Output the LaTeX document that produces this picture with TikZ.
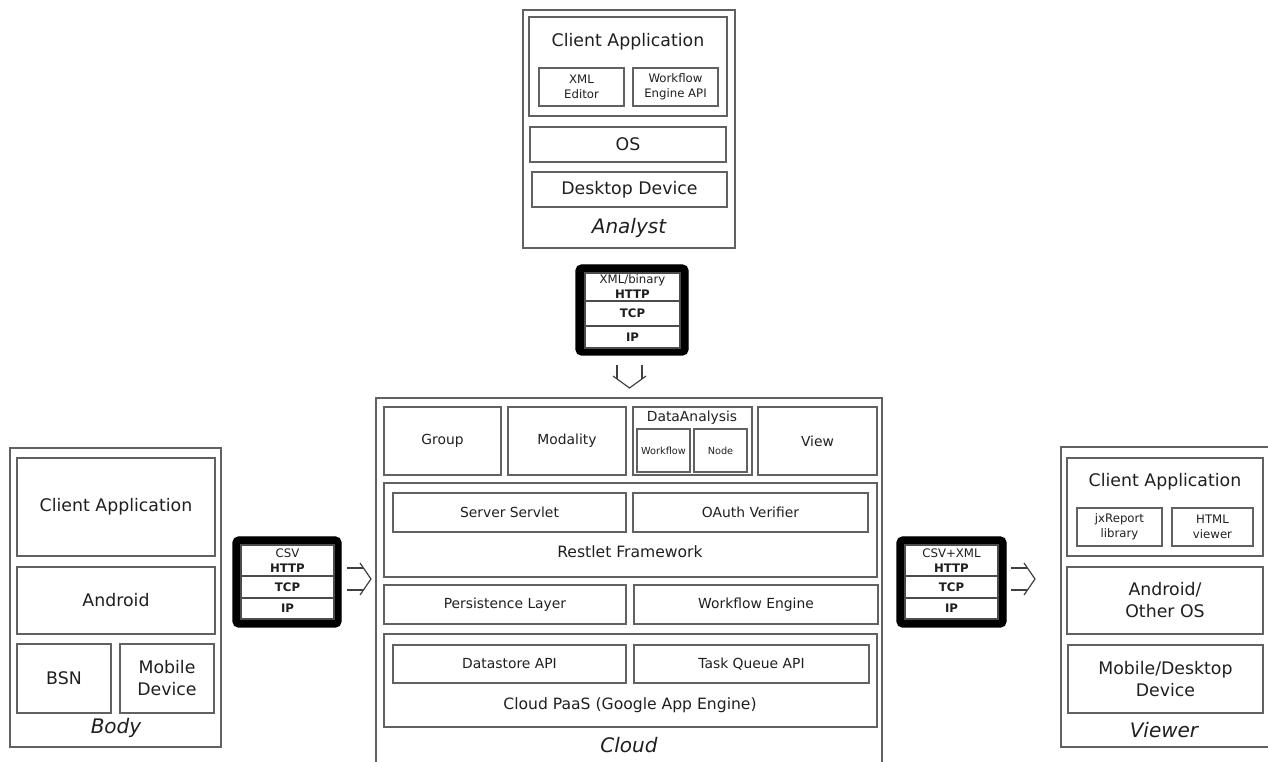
\documentclass[tikz,border=0pt]{standalone}
\usepackage{fontspec}
\setmainfont{DejaVu Sans}
\usetikzlibrary{calc}
\newcommand{\bx}[7][]{\node[box,#1,minimum width={(#5-#3)*0.75pt},minimum height={(#6-#4)*0.75pt}] (#2) at ({(#3+#5)/2},{(#4+#6)/2}) {#7};}
\tikzset{
  box/.style={draw=black!62, line width=0.9pt, inner sep=1pt, align=center, text=black!88},
  lbl/.style={inner sep=0pt, align=center, text=black!88},
  fbig/.style={font=\fontsize{13}{16.5}\selectfont},
  fmid/.style={font=\fontsize{10.4}{12.5}\selectfont},
  fmidl/.style={font=\fontsize{11.7}{14}\selectfont},
  fsmall/.style={font=\fontsize{8.8}{11.25}\selectfont},
  ftiny/.style={font=\fontsize{7.3}{9}\selectfont},
  flab/.style={font=\fontsize{15}{18}\selectfont\itshape},
  frame/.style={fill=black, draw=black, rounded corners=4pt},
  sect/.style={box, fill=white, draw=black!70, line width=0.8pt, font=\fontsize{8.8}{11.25}\selectfont},
  arrowline/.style={draw=black!75, line width=0.9pt},
}
\begin{document}
\begin{tikzpicture}[x=0.75pt,y=-0.75pt]
\useasboundingbox (0,0) rectangle (1268,762);

% ---------------- Analyst ----------------
\bx{analyst}{523}{10}{735}{248}{}
\node[lbl,flab] (analystlbl) at (629,228) {Analyst};
\bx{aclient}{529}{17}{727}{116}{}
\node[lbl,fbig] (aclientlbl) at (628,42) {Client Application};
\bx[fsmall]{xmled}{539}{68}{624}{106}{XML\\Editor}
\bx[fsmall]{wfapi}{633}{68}{718}{106}{Workflow\\Engine API}
\bx[fbig]{aos}{530}{127}{726}{162}{OS}
\bx[fbig]{adev}{532}{172}{727}{207}{Desktop Device}

% ---------------- top protocol box ----------------
\bx[frame]{ptop}{576}{265}{688}{355}{}
\bx[sect]{ptopa}{585}{273}{680}{301}{XML/binary\\\textbf{HTTP}}
\bx[sect]{ptopb}{585}{301}{680}{326}{\textbf{TCP}}
\bx[sect]{ptopc}{585}{326}{680}{348}{\textbf{IP}}

% ---------------- Cloud ----------------
\bx{cloud}{376}{398}{882}{800}{}
\node[lbl,flab] (cloudlbl) at (629,745) {Cloud};
\bx[fmid]{group}{384}{407}{501}{475}{Group}
\bx[fmid]{modality}{508}{407}{626}{475}{Modality}
\bx{da}{633}{407}{752}{475}{}
\node[lbl,fmid] (dalbl) at (692,418) {DataAnalysis};
\bx[ftiny]{wf}{637}{429}{690}{472}{Workflow}
\bx[ftiny]{nd}{694}{429}{747}{472}{Node}
\bx[fmid]{view}{758}{407}{877}{475}{View}
\bx{restlet}{384}{483}{877}{577}{}
\node[lbl,fmidl] (restletlbl) at (630,552) {Restlet Framework};
\bx[fmid]{servlet}{393}{493}{626}{532}{Server Servlet}
\bx[fmid]{oauth}{633}{493}{868}{532}{OAuth Verifier}
\bx[fmid]{persist}{384}{585}{626}{624}{Persistence Layer}
\bx[fmid]{wfeng}{634}{585}{878}{624}{Workflow Engine}
\bx{paas}{384}{634}{877}{727}{}
\node[lbl,fmidl] (paaslbl) at (630,705) {Cloud PaaS (Google App Engine)};
\bx[fmid]{dsapi}{393}{645}{626}{683}{Datastore API}
\bx[fmid]{tqapi}{634}{645}{869}{683}{Task Queue API}

% ---------------- Body ----------------
\bx{body}{10}{448}{221}{747}{}
\node[lbl,flab] (bodylbl) at (116,728) {Body};
\bx[fbig]{bclient}{17}{458}{215}{556}{Client Application}
\bx[fbig]{bandroid}{17}{567}{215}{634}{Android}
\bx[fbig]{bsn}{17}{644}{111}{713}{BSN}
\bx[fbig]{bmob}{120}{644}{214}{713}{Mobile\\Device}

% ---------------- CSV protocol box ----------------
\bx[frame]{pleft}{233}{537}{341}{627}{}
\bx[sect]{plefta}{241}{545}{334}{576}{CSV\\\textbf{HTTP}}
\bx[sect]{pleftb}{241}{576}{334}{598}{\textbf{TCP}}
\bx[sect]{pleftc}{241}{598}{334}{619}{\textbf{IP}}

% ---------------- CSV+XML protocol box ----------------
\bx[frame]{pright}{897}{537}{1006}{627}{}
\bx[sect]{prighta}{905}{545}{998}{576}{CSV+XML\\\textbf{HTTP}}
\bx[sect]{prightb}{905}{576}{998}{598}{\textbf{TCP}}
\bx[sect]{prightc}{905}{598}{998}{619}{\textbf{IP}}

% ---------------- Viewer ----------------
\bx{viewer}{1061}{447}{1278}{747}{}
\node[lbl,flab] (viewerlbl) at (1164,730) {Viewer};
\bx{vclient}{1067}{458}{1263}{556}{}
\node[lbl,fbig] (vclientlbl) at (1165,482) {Client Application};
\bx[fsmall]{jx}{1077}{508}{1162}{546}{jxReport\\library}
\bx[fsmall]{html}{1172}{508}{1253}{546}{HTML\\viewer}
\bx[fbig]{vos}{1067}{567}{1263}{634}{Android/\\Other OS}
\bx[fbig]{vdev}{1068}{645}{1263}{713}{Mobile/Desktop\\Device}

% ---------------- hollow arrows ----------------
% top: protocol -> cloud
\coordinate (tipA) at (629.5,388);
\draw[arrowline] ($(tipA)+(-12.5,-23)$) -- ($(tipA)+(-12.5,-9)$);
\draw[arrowline] ($(tipA)+(12.5,-23)$) -- ($(tipA)+(12.5,-9)$);
\draw[arrowline] ($(tipA)+(-16.5,-12)$) -- (tipA) -- ($(tipA)+(16.5,-12)$);
% left: CSV -> cloud
\coordinate (tipB) at (371,579);
\draw[arrowline] ($(tipB)+(-24,-11)$) -- ($(tipB)+(-8,-11)$);
\draw[arrowline] ($(tipB)+(-24,11)$) -- ($(tipB)+(-8,11)$);
\draw[arrowline] ($(tipB)+(-11,-16)$) -- (tipB) -- ($(tipB)+(-11,16)$);
% right: CSV+XML -> viewer
\coordinate (tipC) at (1035,579);
\draw[arrowline] ($(tipC)+(-24,-11)$) -- ($(tipC)+(-8,-11)$);
\draw[arrowline] ($(tipC)+(-24,11)$) -- ($(tipC)+(-8,11)$);
\draw[arrowline] ($(tipC)+(-11,-16)$) -- (tipC) -- ($(tipC)+(-11,16)$);
\end{tikzpicture}
\end{document}
